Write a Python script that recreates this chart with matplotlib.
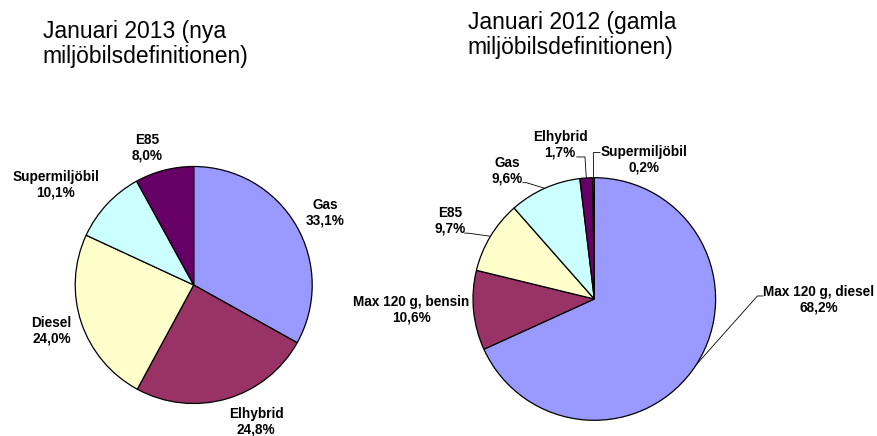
import numpy as np
import matplotlib
matplotlib.use("Agg")
import matplotlib.pyplot as plt

plt.rcParams["font.family"] = ["Liberation Sans", "DejaVu Sans"]

# ---- data -------------------------------------------------------------------
title_2013 = "Januari 2013 (nya\nmiljöbilsdefinitionen)"
labels_2013 = ["Gas", "Elhybrid", "Diesel", "Supermiljöbil", "E85"]
values_2013 = [33.1, 24.8, 24.0, 10.1, 8.0]

title_2012 = "Januari 2012 (gamla\nmiljöbilsdefinitionen)"
labels_2012 = ["Max 120 g, diesel", "Max 120 g, bensin", "E85", "Gas",
               "Elhybrid", "Supermiljöbil"]
values_2012 = [68.2, 10.6, 9.7, 9.6, 1.7, 0.2]

# ---- style / layout ---------------------------------------------------------
colors_2013 = ["#9999FF", "#993366", "#FFFFCC", "#CCFFFF", "#660066"]
colors_2012 = ["#9999FF", "#993366", "#FFFFCC", "#CCFFFF", "#660066", "#FF8080"]

W, H = 877, 436
center_2013, radius_2013 = (193.7, H - 285.0), 118.5
center_2012, radius_2012 = (594.3, H - 299.0), 121.3

# label offsets in pie-radius units: (dx, dy, ha)
place_2013 = [(1.106, 0.607, "center"), (0.527, -1.155, "center"),
              (-1.20, -0.386, "center"), (-1.165, 0.846, "center"),
              (-0.392, 1.155, "center")]
place_2012 = [(1.394, -0.006, "left"), (-1.027, -0.091, "right"),
              (-1.063, 0.645, "right"), (-0.592, 1.054, "right"),
              (-0.281, 1.270, "center"), (0.410, 1.151, "center")]
# leader lines: points near the text, the wedge edge is added automatically
leaders_2012 = [[(1.39, 0.025), (1.345, 0.025)],
                None,
                [(-1.069, 0.543), (-1.042, 0.543)],
                [(-0.589, 0.959), (-0.56, 0.959)],
                [(-0.145, 1.171), (-0.077, 1.171)],
                [(0.047, 1.207), (-0.008, 1.207)]]

label_font = dict(fontsize=9.8, fontweight="bold", linespacing=1.15,
                  multialignment="center")

fig = plt.figure(figsize=(W / 100, H / 100), dpi=100)
ax = fig.add_axes([0, 0, 1, 1])


def draw_pie(values, labels, colors, center, radius, places, leaders=None):
    wedges, _ = ax.pie(values, colors=colors, startangle=90, counterclock=False,
                       center=center, radius=radius, frame=True,
                       wedgeprops=dict(edgecolor="black", linewidth=0.9))
    cx, cy = center
    for i, (w, lab, val) in enumerate(zip(wedges, labels, values)):
        dx, dy, ha = places[i]
        txt = f"{lab}\n{val:.1f}%".replace(".", ",")
        ax.text(cx + dx * radius, cy + dy * radius, txt, ha=ha, va="center",
                **label_font)
        if leaders and leaders[i]:
            mid = np.deg2rad((w.theta1 + w.theta2) / 2)
            pts = leaders[i] + [(np.cos(mid), np.sin(mid))]
            xs = [cx + p[0] * radius for p in pts]
            ys = [cy + p[1] * radius for p in pts]
            ax.plot(xs, ys, color="black", linewidth=0.6)


draw_pie(values_2013, labels_2013, colors_2013, center_2013, radius_2013, place_2013)
draw_pie(values_2012, labels_2012, colors_2012, center_2012, radius_2012, place_2012,
         leaders_2012)

ax.set_xlim(0, W)
ax.set_ylim(0, H)
ax.set_aspect("auto")
ax.axis("off")

# baseline of a multi-line text is the baseline of its last line
ax.text(42.7, H - 63.3, title_2013, fontsize=16.5, ha="left", va="baseline",
        linespacing=1.15)
ax.text(467.7, H - 54.3, title_2012, fontsize=16.5, ha="left", va="baseline",
        linespacing=1.15)

fig.savefig("out.png", dpi=100)
